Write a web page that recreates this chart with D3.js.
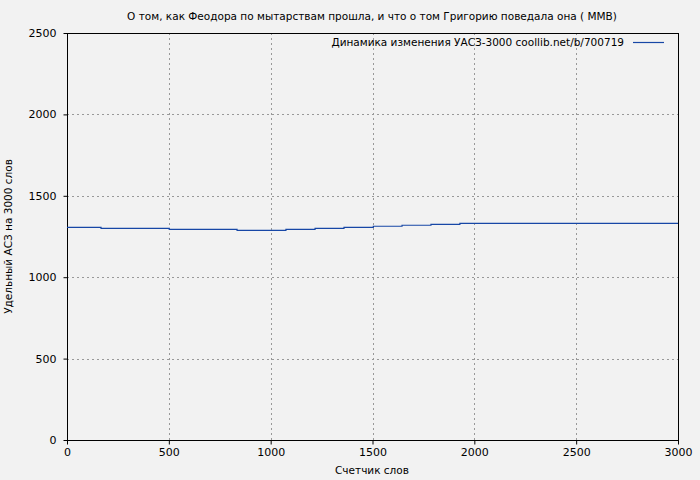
<!DOCTYPE html>
<html lang="ru">
<head>
<meta charset="UTF-8"/>
<title>УАСЗ-3000</title>
<script src="https://d3js.org/d3.v7.min.js"></script>
<style>
	body { margin: 0; background: #f2f2f2; }
	svg { display: block; font-family: "DejaVu Sans", sans-serif; }
</style>
</head>
<body>
<script>
	// ***Data***
	var stepStart = [0, 167, 502, 835, 1075, 1218, 1360, 1504, 1645, 1787, 1929, 3000];
	var stepValue = [1306, 1300, 1294, 1288, 1294, 1300, 1306, 1313, 1319, 1325, 1331, 1331];
	var xTicks = [0, 500, 1000, 1500, 2000, 2500, 3000];
	var yTicks = [0, 500, 1000, 1500, 2000, 2500];
	var title = "О том, как Феодора по мытарствам прошла, и что о том Григорию поведала она ( ММВ)";
	var legendText = "Динамика изменения УАСЗ-3000 coollib.net/b/700719";

	var w = 700;
	var h = 480;
	var padLeft = 67, padRight = 678, padTop = 33, padBottom = 440;

	var xScale = d3.scaleLinear().domain([0, 3000]).range([padLeft, padRight]);
	var yScale = d3.scaleLinear().domain([0, 2500]).range([padBottom, padTop]);

	var svg = d3.select("body")
				.append("svg")
				.attr("width", w)
				.attr("height", h);

	svg.append("rect")
		.attr("width", w).attr("height", h)
		.attr("fill", "#f2f2f2");

	// grid
	svg.selectAll("line.gx")
		.data(xTicks.slice(1, -1))
		.enter()
		.append("line")
		.attr("x1", function(d) { return Math.round(xScale(d)) + 0.5; })
		.attr("x2", function(d) { return Math.round(xScale(d)) + 0.5; })
		.attr("y1", padTop).attr("y2", padBottom)
		.attr("stroke", "#999").attr("stroke-dasharray", "2,3");

	svg.selectAll("line.gy")
		.data(yTicks.slice(1, -1))
		.enter()
		.append("line")
		.attr("y1", function(d) { return Math.round(yScale(d)) + 0.5; })
		.attr("y2", function(d) { return Math.round(yScale(d)) + 0.5; })
		.attr("x1", padLeft).attr("x2", padRight)
		.attr("stroke", "#999").attr("stroke-dasharray", "2,3");

	// axes
	var xAxis = svg.append("g")
		.attr("transform", "translate(0," + (padBottom + 0.5) + ")")
		.call(d3.axisBottom(xScale).tickValues(xTicks).tickFormat(d3.format("d")).tickSize(4).tickPadding(4));
	var yAxis = svg.append("g")
		.attr("transform", "translate(" + (padLeft + 0.5) + ",0)")
		.call(d3.axisLeft(yScale).tickValues(yTicks).tickFormat(d3.format("d")).tickSize(4).tickPadding(7));
	[xAxis, yAxis].forEach(function(a) {
		a.select(".domain").remove();
		a.selectAll("text").attr("font-size", 11).attr("font-family", "DejaVu Sans, sans-serif").attr("fill", "#000");
		a.selectAll("line").attr("stroke", "#000");
	});

	// frame
	svg.append("rect")
		.attr("x", padLeft + 0.5).attr("y", padTop + 0.5)
		.attr("width", padRight - padLeft).attr("height", padBottom - padTop)
		.attr("fill", "none").attr("stroke", "#000");

	// step line
	var pts = stepStart.map(function(d, i) { return [d, stepValue[i]]; });
	var line = d3.line()
		.x(function(d) { return xScale(d[0]); })
		.y(function(d) { return yScale(d[1]); })
		.curve(d3.curveStepAfter);
	svg.append("path")
		.datum(pts)
		.attr("d", line)
		.attr("fill", "none")
		.attr("stroke", "#1747a6")
		.attr("stroke-width", 1.2);

	// title and labels
	svg.append("text")
		.attr("x", 372).attr("y", 20)
		.attr("text-anchor", "middle").attr("font-size", 10.5)
		.text(title);
	svg.append("text")
		.attr("x", 372).attr("y", 474)
		.attr("text-anchor", "middle").attr("font-size", 10.5)
		.text("Счетчик слов");
	svg.append("text")
		.attr("transform", "translate(12," + ((padTop + padBottom) / 2) + ") rotate(-90)")
		.attr("text-anchor", "middle").attr("font-size", 10.5)
		.text("Удельный АСЗ на 3000 слов");

	// legend
	svg.append("text")
		.attr("x", 624).attr("y", 46)
		.attr("text-anchor", "end").attr("font-size", 10.5)
		.text(legendText);
	svg.append("line")
		.attr("x1", 633).attr("x2", 664)
		.attr("y1", 42.5).attr("y2", 42.5)
		.attr("stroke", "#1747a6").attr("stroke-width", 1.2);
</script>
</body>
</html>
